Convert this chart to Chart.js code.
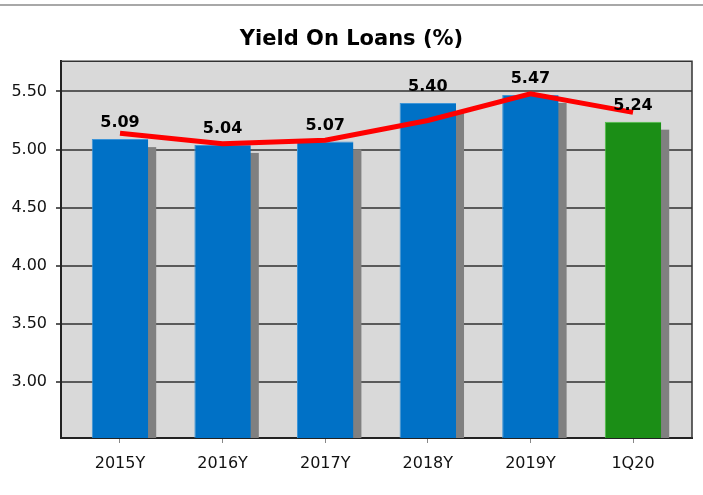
<!DOCTYPE html>
<html>
<head>
<meta charset="utf-8">
<title>Yield On Loans</title>
<script src="https://cdn.jsdelivr.net/npm/chart.js@4.4.1/dist/chart.umd.min.js"></script>
<style>
    html, body { margin: 0; padding: 0; background: #fff; }
    #wrap { width: 703px; height: 495px; }
</style>
</head>
<body>
<div id="wrap"><canvas id="yieldChart" width="703" height="495"></canvas></div>
<script>
// chart data
const periods = ['2015Y', '2016Y', '2017Y', '2018Y', '2019Y', '1Q20'];
const yieldValues = [5.09, 5.04, 5.07, 5.40, 5.47, 5.24];
const trendValues = [5.14, 5.05, 5.08, 5.25, 5.48, 5.32];
const yTickValues = [3.00, 3.50, 4.00, 4.50, 5.00, 5.50];

const barColors = ['#0071c6', '#0071c6', '#0071c6', '#0071c6', '#0071c6', '#1b8e16'];
const barEdges = ['#3d95d8', '#3d95d8', '#3d95d8', '#3d95d8', '#3d95d8', '#4cc443'];

const FONT = "'DejaVu Sans', Verdana, sans-serif";

// gray rule across the top, plot background and frame
const framePlugin = {
    id: 'frame',
    beforeDraw(chart) {
        const { ctx, chartArea: a } = chart;
        ctx.save();
        ctx.fillStyle = '#a8a8a8';
        ctx.fillRect(0, 4, chart.width, 2);
        ctx.fillStyle = '#d9d9d9';
        ctx.fillRect(a.left, a.top, a.right - a.left, a.bottom - a.top);
        ctx.restore();
    },
    afterDatasetsDraw(chart) {
        const { ctx, chartArea: a } = chart;
        ctx.save();
        ctx.strokeStyle = '#333';
        ctx.lineWidth = 1.5;
        ctx.beginPath();
        ctx.moveTo(a.left, a.top);
        ctx.lineTo(a.right, a.top);
        ctx.lineTo(a.right, a.bottom);
        ctx.stroke();
        ctx.restore();
    }
};

// hard gray drop shadow behind each bar
const barShadow = {
    id: 'barShadow',
    beforeDatasetDraw(chart, args) {
        const meta = chart.getDatasetMeta(args.index);
        if (meta.type !== 'bar') return;
        const { ctx, chartArea: a } = chart;
        ctx.save();
        ctx.beginPath();
        ctx.rect(a.left, a.top, a.right - a.left, a.bottom - a.top);
        ctx.clip();
        ctx.fillStyle = '#808080';
        meta.data.forEach(bar => {
            const { x, y, width } = bar.getProps(['x', 'y', 'width'], true);
            ctx.fillRect(x - width / 2 + 8, y + 8, width, a.bottom - y - 8);
        });
        ctx.restore();
    }
};

// value labels above the bars
const valueLabels = {
    id: 'valueLabels',
    afterDatasetsDraw(chart) {
        const ctx = chart.ctx;
        chart.data.datasets.forEach((ds, i) => {
            const meta = chart.getDatasetMeta(i);
            if (meta.type !== 'bar') return;
            ctx.save();
            ctx.font = 'bold 16px ' + FONT;
            ctx.fillStyle = '#000';
            ctx.textAlign = 'center';
            ctx.textBaseline = 'middle';
            meta.data.forEach((bar, j) => {
                ctx.fillText(yieldValues[j].toFixed(2), bar.x, bar.y - 16);
            });
            ctx.restore();
        });
    }
};

const chart = new Chart(document.getElementById('yieldChart'), {
    type: 'bar',
    data: {
        datasets: [
            {
                type: 'line',
                label: 'Trend',
                data: trendValues.map((v, i) => ({ x: i, y: v })),
                borderColor: '#ff0000',
                borderWidth: 5,
                pointRadius: 0,
                tension: 0,
                order: 0
            },
            {
                label: 'Yield On Loans (%)',
                data: yieldValues.map((v, i) => ({ x: i, y: v })),
                backgroundColor: barColors,
                borderColor: barEdges,
                borderWidth: { top: 1, left: 1, right: 0, bottom: 0 },
                borderSkipped: false,
                barPercentage: 0.55,
                categoryPercentage: 1,
                order: 1
            }
        ]
    },
    options: {
        responsive: false,
        animation: false,
        layout: { padding: { left: 11, right: 11, top: 0, bottom: 0 } },
        plugins: {
            legend: { display: false },
            tooltip: { enabled: false },
            title: {
                display: true,
                text: 'Yield On Loans (%)',
                color: '#000',
                font: { family: FONT, size: 21, weight: 'bold' },
                padding: { top: 27, bottom: 9 }
            }
        },
        scales: {
            x: {
                type: 'linear',
                offset: false,
                min: -0.575,
                max: 5.575,
                afterBuildTicks: scale => {
                    scale.ticks = periods.map((p, i) => ({ value: i }));
                },
                afterFit: scale => { scale.height = 57; },
                ticks: {
                    callback: v => periods[v],
                    color: '#111',
                    font: { family: FONT, size: 16 },
                    padding: 11,
                    maxRotation: 0,
                    autoSkip: false
                },
                grid: { offset: false, drawOnChartArea: false, drawTicks: true, tickLength: 5, color: '#888', lineWidth: 1 },
                border: { display: true, color: '#222', width: 2 }
            },
            y: {
                min: 2.52,
                max: 5.76,
                afterBuildTicks: scale => {
                    scale.ticks = yTickValues.map(v => ({ value: v }));
                },
                afterFit: scale => { scale.width = 50; },
                ticks: {
                    callback: v => v.toFixed(2),
                    color: '#111',
                    font: { family: FONT, size: 16 },
                    padding: 9
                },
                grid: { color: '#5a5a5a', lineWidth: 2, tickLength: 5 },
                border: { display: true, color: '#222', width: 2 }
            }
        }
    },
    plugins: [framePlugin, barShadow, valueLabels]
});
</script>
</body>
</html>
